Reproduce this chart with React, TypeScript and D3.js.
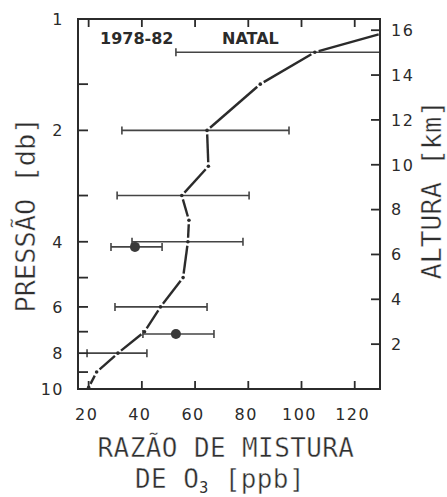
import React from 'react';
import * as d3 from 'd3';

// perfil medio de O3 - Natal 1978-82
const profilePressure = [9.9, 9.0, 8.0, 7.0, 6.0, 5.0, 4.0, 3.5, 3.0, 2.5, 2.0, 1.5, 1.23, 1.1];
const profileO3 = [20, 23, 31, 41, 47, 55.5, 57.3, 57.7, 55, 65, 64.5, 84.5, 105, 129];

// barras de desvio (pressao, min, max)
const barPressure = [1.23, 2, 3, 4, 4.13, 6, 7.1, 8];
const barLow = [52.8, 32.5, 30.7, 36.3, 28.4, 29.9, 40.4, 19.4];
const barHigh = [157, 95.3, 80.3, 78, 47.6, 64.5, 67.1, 41.9];

// pontos isolados
const dotPressure = [4.13, 7.1];
const dotO3 = [37.4, 52.8];

const pressureTicks = [1, 1.5, 2, 3, 4, 5, 6, 7, 8, 9, 10];
const pressureLabels = [1, 2, 4, 6, 8, 10];
const altTicks = [2, 4, 6, 8, 10, 12, 14, 16];
const o3Ticks = [20, 40, 60, 80, 100, 120];

const W = 447, H = 497;
const margin = {top: 19, right: 67, bottom: 108, left: 78};

export default function App() {
    const x = d3.scaleLinear().domain([16, 129.5]).range([margin.left, W - margin.right]);
    const y = d3.scaleLog().domain([1, 10]).range([margin.top, H - margin.bottom]);
    const yAlt = d3.scaleLinear().domain([0, 16.5]).range([H - margin.bottom, margin.top]);

    const x0 = margin.left, x1 = W - margin.right;
    const y0 = margin.top, y1 = H - margin.bottom;
    const ink = '#2b2b2b';
    const tickFont = {fontFamily: 'DejaVu Sans', fontSize: 16, fill: ink, letterSpacing: 1.5};
    // thin the mono glyphs a little with a white stroke on top
    const labelFont = {fontFamily: 'DejaVu Sans Mono', fontSize: 27, fill: '#2e2e2e', stroke: '#fff', strokeWidth: 0.4};
    const bottomFont = {...labelFont, fontSize: 26, letterSpacing: 0.4};

    // segments of the profile, shortened near each dot
    const pts = profilePressure.map((p, i) => [x(profileO3[i]), y(p)]);
    const gap = 4;
    const segs = [];
    for (let i = 0; i < pts.length - 1; i++) {
        const [ax, ay] = pts[i], [bx, by] = pts[i + 1];
        const len = Math.hypot(bx - ax, by - ay);
        const ux = (bx - ax) / len, uy = (by - ay) / len;
        const endGap = i === pts.length - 2 ? 0 : gap;
        segs.push([ax + ux * gap, ay + uy * gap, bx - ux * endGap, by - uy * endGap]);
    }

    return (
        <svg width={W} height={H} style={{position: 'absolute', left: 0, top: 0, background: '#fff'}}>
            <defs>
                <clipPath id="plot">
                    <rect x={x0} y={y0} width={x1 - x0} height={y1 - y0} />
                </clipPath>
            </defs>

            {/* error bars */}
            <g clipPath="url(#plot)" stroke="#444" strokeWidth={1.6}>
                {barPressure.map((p, i) => (
                    <g key={i}>
                        <line x1={x(barLow[i])} x2={x(barHigh[i])} y1={y(p)} y2={y(p)} />
                        <line x1={x(barLow[i])} x2={x(barLow[i])} y1={y(p) - 4} y2={y(p) + 4} />
                        <line x1={x(barHigh[i])} x2={x(barHigh[i])} y1={y(p) - 4} y2={y(p) + 4} />
                    </g>
                ))}
            </g>

            {/* profile */}
            <g clipPath="url(#plot)">
                {segs.map((s, i) => (
                    <line key={i} x1={s[0]} y1={s[1]} x2={s[2]} y2={s[3]} stroke={ink} strokeWidth={2.4} />
                ))}
                {pts.slice(0, -1).map((p, i) => (
                    <circle key={i} cx={p[0]} cy={p[1]} r={1.8} fill={ink} />
                ))}
                {dotPressure.map((p, i) => (
                    <circle key={i} cx={x(dotO3[i])} cy={y(p)} r={5} fill="#3a3a3a" />
                ))}
            </g>

            {/* frame */}
            <rect x={x0} y={y0} width={x1 - x0} height={y1 - y0} fill="none" stroke={ink} strokeWidth={2} />

            {/* left axis */}
            {pressureTicks.map(t => (
                <line key={t} x1={x0} x2={x0 + 10} y1={y(t)} y2={y(t)} stroke={ink} strokeWidth={1.8} />
            ))}
            {pressureLabels.map(t => (
                <text key={t} x={64} y={y(t)} dy="0.36em" textAnchor="end" style={tickFont}>{t}</text>
            ))}

            {/* right axis */}
            {altTicks.map(t => (
                <line key={t} x1={x1 - 9} x2={x1} y1={yAlt(t)} y2={yAlt(t)} stroke={ink} strokeWidth={1.8} />
            ))}
            {altTicks.map(t => (
                <text key={t} x={391} y={yAlt(t)} dy="0.36em" textAnchor="start" style={tickFont}>{t}</text>
            ))}

            {/* top / bottom ticks */}
            {o3Ticks.map(t => (
                <g key={t}>
                    <line x1={x(t)} x2={x(t)} y1={y0} y2={y0 + 8} stroke={ink} strokeWidth={1.8} />
                    <line x1={x(t)} x2={x(t)} y1={y1} y2={y1 - 8} stroke={ink} strokeWidth={1.8} />
                    <text x={x(t) - 2} y={420} textAnchor="middle" style={tickFont}>{t}</text>
                </g>
            ))}

            {/* annotations */}
            <text x={100} y={44} style={{fontFamily: 'DejaVu Sans', fontWeight: 'bold', fontSize: 16, fill: ink}}>1978-82</text>
            <text x={222} y={44} style={{fontFamily: 'DejaVu Sans', fontWeight: 'bold', fontSize: 16, fill: ink}}>NATAL</text>

            {/* axis titles */}
            <text transform="translate(35,215) rotate(-90)" textAnchor="middle" style={labelFont}>PRESSÃO [db]</text>
            <text transform="translate(441,190) rotate(-90)" textAnchor="middle" style={labelFont}>ALTURA [km]</text>
            <text x={226} y={457} textAnchor="middle" style={bottomFont}>RAZÃO DE MISTURA</text>
            <text x={220} y={488} textAnchor="middle" style={bottomFont}>
                DE O<tspan dy={5} fontSize={15} stroke="none">3</tspan><tspan dy={-5}>  [ppb]</tspan>
            </text>
        </svg>
    );
}
